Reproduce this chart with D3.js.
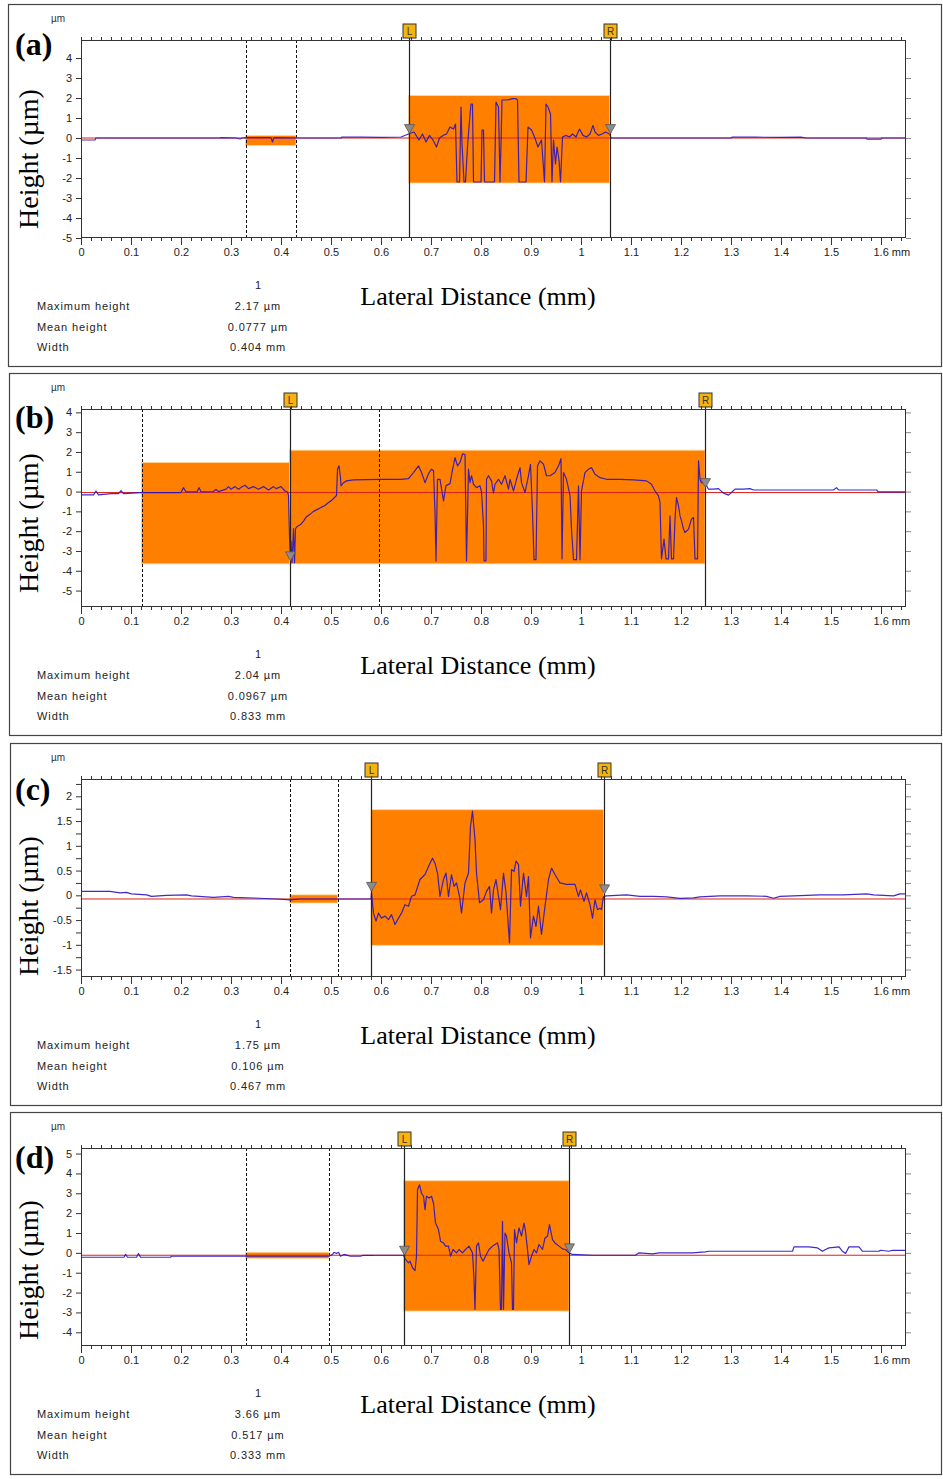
<!DOCTYPE html>
<html><head><meta charset="utf-8">
<script src="https://cdn.jsdelivr.net/npm/d3@7"></script>
<style>body{margin:0;background:#fff}svg{display:block}</style>
</head><body><svg id="c" width="943" height="1479"></svg>
<script>
// ---------------- DATA ----------------
const panelNames = ["(a)", "(b)", "(c)", "(d)"];
const xTicks = [0,0.1,0.2,0.3,0.4,0.5,0.6,0.7,0.8,0.9,1,1.1,1.2,1.3,1.4,1.5,1.6];
const xTickLabels = ["0","0.1","0.2","0.3","0.4","0.5","0.6","0.7","0.8","0.9","1","1.1","1.2","1.3","1.4","1.5","1.6"];
const xUnit = "mm";
const xDomain = [0, 1.65];

const yTicksA = [-5,-4,-3,-2,-1,0,1,2,3,4];
const yTicksB = [-5,-4,-3,-2,-1,0,1,2,3,4];
const yTicksC = [-1.5,-1,-0.5,0,0.5,1,1.5,2];
const yMinorC = [-1.5,-1.25,-1,-0.75,-0.5,-0.25,0,0.25,0.5,0.75,1,1.25,1.5,1.75,2,2.25];
const yTicksD = [-4,-3,-2,-1,0,1,2,3,4,5];
const yDomainA = [-5, 4.9];
const yDomainB = [-5.83, 4.17];
const yDomainC = [-1.65, 2.35];
const yDomainD = [-4.69, 5.28];

const profileA = [[0,-0.1],[0.028,-0.1],[0.03,0],[0.1,0],[0.2,0],[0.278,0],[0.28,0.02],[0.31,0],[0.318,-0.05],[0.322,0],[0.33,0.02],[0.38,0.02],[0.383,-0.2],[0.386,0.02],[0.43,0],[0.52,0],[0.522,0.05],[0.56,0.04],[0.6,0.03],[0.64,0.05],[0.655,0.2],
[0.666,0.3],[0.676,-0.1],[0.683,0.2],[0.69,-0.2],[0.697,0.13],[0.704,-0.1],[0.711,-0.45],[0.717,0],[0.724,0.13],[0.731,0.2],[0.738,0.55],[0.745,0.45],[0.749,0.7],[0.752,-2.2],[0.757,-2.2],[0.76,1.55],[0.762,-0.3],[0.766,-2.2],[0.769,-2.2],[0.773,-0.45],[0.776,0.55],[0.78,1.7],[0.783,1.7],[0.785,-2.2],[0.8,-2.2],[0.802,0.4],[0.805,0.4],[0.807,-2.2],[0.827,-2.2],[0.83,1.8],[0.835,1.55],[0.838,-2.2],[0.84,-0.3],[0.842,1.9],[0.849,1.9],[0.856,1.92],[0.863,1.97],[0.869,1.97],[0.873,1.9],[0.876,-2.2],[0.89,-2.2],[0.894,0.55],[0.901,0.4],[0.907,0.05],[0.914,-0.45],[0.921,-0.1],[0.927,-2.2],[0.93,1.7],[0.934,1.55],[0.939,1.2],[0.942,-2.2],[0.945,-0.1],[0.949,-1.3],[0.952,-0.45],[0.956,-1.1],[0.959,-2.2],[0.963,0.05],[0.97,0.13],[0.977,0.05],[0.983,0.2],[0.99,0.05],[0.997,0.45],[1.004,0.13],[1.011,0.05],[1.018,0.2],[1.024,0.63],[1.028,0.3],[1.035,0.13],[1.042,0.2],[1.049,0.3],[1.057,0.2],[1.06,0],[1.2,0],[1.3,0],[1.302,0.04],[1.35,0.04],[1.4,0.03],[1.44,0.04],[1.45,0],[1.57,0],[1.572,-0.06],[1.6,-0.06],[1.602,0],[1.65,0]];

const profileB = [[0,-0.17],[0.025,-0.17],[0.03,0.03],[0.035,-0.17],[0.06,-0.1],[0.075,-0.1],[0.08,0.05],[0.085,-0.1],[0.12,-0.05],[0.2,-0.05],[0.205,0.2],[0.21,-0.02],[0.232,-0.02],[0.236,0.2],[0.24,-0.02],[0.265,0],[0.27,0.1],[0.275,0],[0.29,0.12],[0.295,0.25],[0.3,0.12],[0.308,0.25],[0.315,0.12],[0.322,0.24],[0.328,0.32],[0.335,0.15],[0.345,0.25],[0.355,0.12],[0.365,0.25],[0.375,0.08],[0.385,0.25],[0.39,0.15],[0.4,0.25],[0.408,0.03],[0.413,-0.02],[0.415,-0.2],[0.418,-3.25],[0.42,-2.5],[0.422,-3.6],[0.425,-1.87],[0.427,-3.6],[0.429,-1.87],[0.433,-1.75],[0.44,-1.65],[0.445,-1.49],[0.45,-1.3],[0.458,-1.15],[0.465,-1],[0.473,-0.9],[0.48,-0.8],[0.488,-0.7],[0.495,-0.55],[0.5,-0.47],[0.505,-0.35],[0.511,-0.2],[0.513,1.13],[0.516,1.3],[0.519,0.7],[0.52,0.29],[0.525,0.45],[0.531,0.54],[0.545,0.59],[0.57,0.6],[0.6,0.62],[0.64,0.62],[0.655,0.65],[0.665,0.96],[0.675,1.3],[0.681,0.96],[0.688,0.45],[0.695,0.9],[0.701,1.13],[0.705,1.05],[0.708,-1],[0.71,-3.5],[0.713,0.62],[0.718,0.62],[0.725,-0.47],[0.73,0.3],[0.738,0.4],[0.743,1.1],[0.748,1.72],[0.753,1.3],[0.758,1.47],[0.763,1.9],[0.768,1.87],[0.771,-3.5],[0.775,1.13],[0.778,0.45],[0.781,0.8],[0.785,0.37],[0.791,0.2],[0.798,0.29],[0.801,-0.02],[0.805,-1.7],[0.806,-3.5],[0.81,-3.5],[0.811,0.62],[0.815,0.8],[0.821,0.54],[0.825,-0.08],[0.828,0.37],[0.835,0.62],[0.841,0.37],[0.848,0.8],[0.855,0.12],[0.858,0.62],[0.865,0.03],[0.871,0.62],[0.878,1.21],[0.881,0.45],[0.888,-0.05],[0.895,0.8],[0.899,1.38],[0.903,-1.06],[0.906,-3.44],[0.91,-3.44],[0.913,1.3],[0.918,1.55],[0.925,1.38],[0.931,0.8],[0.938,0.8],[0.948,0.96],[0.955,1.3],[0.96,1.66],[0.962,-3.4],[0.965,0.96],[0.971,0.62],[0.978,-0.2],[0.981,-1.9],[0.985,-3.44],[0.991,-3.44],[0.995,0.29],[0.998,-3.44],[1.001,0.03],[1.008,0.96],[1.015,1.13],[1.021,1.21],[1.028,0.87],[1.038,0.7],[1.051,0.62],[1.078,0.62],[1.105,0.59],[1.131,0.54],[1.141,0.37],[1.148,0.03],[1.155,-0.22],[1.158,-0.55],[1.161,-3.4],[1.166,-2.4],[1.17,-3.4],[1.175,-3.4],[1.178,-1.23],[1.181,-3.4],[1.185,-3.4],[1.188,-1.4],[1.191,-0.3],[1.195,-0.72],[1.198,-1.23],[1.201,-1.48],[1.205,-1.9],[1.208,-2.07],[1.215,-1.9],[1.221,-1.4],[1.225,-1.3],[1.228,-3.4],[1.233,-3.4],[1.235,1.55],[1.238,0.62],[1.241,0.45],[1.248,0.45],[1.255,0.12],[1.265,0.12],[1.275,0.15],[1.285,-0.08],[1.295,-0.18],[1.301,-0.05],[1.308,0.12],[1.325,0.12],[1.338,0.15],[1.345,0.08],[1.505,0.08],[1.511,0.2],[1.515,0.08],[1.591,0.08],[1.595,-0.02],[1.65,-0.02]];

const profileC = [[0,0.08],[0.058,0.08],[0.078,0.05],[0.091,0.06],[0.101,0.03],[0.131,0.01],[0.141,-0.02],[0.171,0],[0.211,0.01],[0.221,-0.01],[0.265,-0.04],[0.295,-0.02],[0.305,-0.04],[0.345,-0.054],[0.391,-0.074],[0.418,-0.09],[0.438,-0.074],[0.505,-0.074],[0.58,-0.074],[0.581,0.05],[0.585,-0.36],[0.59,-0.52],[0.595,-0.36],[0.601,-0.46],[0.608,-0.42],[0.615,-0.49],[0.621,-0.39],[0.628,-0.59],[0.635,-0.46],[0.641,-0.36],[0.648,-0.19],[0.655,-0.22],[0.661,-0.02],[0.668,0.01],[0.678,0.32],[0.688,0.42],[0.698,0.65],[0.703,0.75],[0.708,0.65],[0.713,0.45],[0.718,-0.02],[0.725,0.32],[0.73,0.45],[0.735,-0.02],[0.741,0.42],[0.746,0.18],[0.751,0.25],[0.757,-0.02],[0.761,-0.36],[0.768,0.25],[0.775,0.45],[0.779,1.39],[0.783,1.7],[0.788,1.12],[0.791,0.45],[0.797,-0.15],[0.805,-0.09],[0.811,0.08],[0.817,0.18],[0.821,-0.36],[0.825,0.11],[0.83,0.32],[0.835,-0.02],[0.839,-0.29],[0.845,0.45],[0.85,0.05],[0.857,-0.96],[0.861,0.52],[0.866,0.48],[0.87,0.69],[0.875,0.62],[0.879,-0.22],[0.885,0.45],[0.891,-0.02],[0.895,0.38],[0.899,-0.86],[0.905,-0.42],[0.91,-0.63],[0.915,-0.22],[0.921,-0.79],[0.928,-0.22],[0.935,0.32],[0.941,0.55],[0.948,0.42],[0.958,0.25],[0.971,0.22],[0.988,0.22],[0.995,-0.02],[0.999,0.11],[1.006,-0.12],[1.011,0.05],[1.018,-0.19],[1.023,-0.46],[1.028,-0.09],[1.033,-0.29],[1.038,-0.26],[1.041,-0.29],[1.045,-0.02],[1.051,-0.01],[1.091,0.01],[1.118,-0.02],[1.145,-0.02],[1.171,-0.03],[1.198,-0.06],[1.225,-0.05],[1.238,-0.03],[1.278,-0.01],[1.331,-0.01],[1.371,-0.02],[1.385,-0.06],[1.398,-0.02],[1.425,-0.01],[1.478,0.01],[1.525,0.01],[1.571,0.03],[1.585,0.01],[1.625,-0.01],[1.638,0.03],[1.65,0.03]];

const profileD = [[0,-0.22],[0.086,-0.22],[0.089,-0.08],[0.093,-0.22],[0.111,-0.22],[0.115,-0.03],[0.119,-0.22],[0.179,-0.22],[0.181,-0.17],[0.236,-0.17],[0.329,-0.17],[0.496,-0.17],[0.503,-0.08],[0.506,0.03],[0.511,-0.03],[0.515,0.03],[0.519,-0.17],[0.526,-0.08],[0.533,-0.13],[0.539,-0.17],[0.559,-0.17],[0.563,-0.13],[0.583,-0.13],[0.586,-0.12],[0.645,-0.12],[0.649,-0.33],[0.655,-0.5],[0.658,-0.42],[0.663,-0.75],[0.668,-0.89],[0.671,-0.17],[0.673,3.18],[0.677,3.43],[0.681,3],[0.685,2.85],[0.688,2.18],[0.691,2.85],[0.696,2.76],[0.701,2.85],[0.705,2.5],[0.709,1.5],[0.715,1.17],[0.719,0.59],[0.725,0.5],[0.729,0.34],[0.735,0.34],[0.739,-0.17],[0.744,0.17],[0.751,0],[0.756,0.17],[0.763,0],[0.769,0.17],[0.776,0.34],[0.783,0],[0.786,-1.34],[0.788,-2.85],[0.791,0.34],[0.795,0.5],[0.799,-0.17],[0.804,-0.42],[0.809,-0.17],[0.816,0.17],[0.823,0.34],[0.828,0.42],[0.833,0.5],[0.836,0.17],[0.839,-2.85],[0.841,-2.85],[0.843,1.59],[0.845,-2.85],[0.848,1],[0.851,0.84],[0.856,0],[0.861,-0.5],[0.863,-2.85],[0.865,-2.85],[0.867,1.17],[0.871,0.5],[0.876,1.26],[0.881,0.84],[0.886,1.5],[0.889,1.09],[0.893,0.17],[0.896,-0.59],[0.901,-0.17],[0.906,0.17],[0.911,0],[0.916,0.42],[0.923,0.17],[0.928,0.75],[0.933,0.84],[0.937,1.42],[0.943,0.67],[0.948,0.5],[0.956,0.34],[0.963,0.2],[0.969,0.17],[0.976,0],[0.983,-0.08],[1.023,-0.12],[1.109,-0.12],[1.116,0],[1.143,-0.05],[1.156,0],[1.223,0],[1.249,0.05],[1.256,0.08],[1.423,0.08],[1.426,0.3],[1.456,0.3],[1.473,0.25],[1.483,0.08],[1.489,0.17],[1.496,0.25],[1.516,0.3],[1.523,0.08],[1.529,-0.03],[1.536,0.3],[1.556,0.3],[1.563,0.08],[1.596,0.08],[1.599,0.13],[1.616,0.08],[1.623,0.13],[1.65,0.13]];

const meanLevels = [0, -0.05, -0.074, -0.12];
const refBandX = [[0.329,0.43],[0.121,0.417],[0.417,0.513],[0.329,0.496]];
const refBandY = [[-0.37,0.13],[-3.65,1.47],[-0.155,0.01],[-0.28,0.03]];
const mainBandX = [[0.655,1.057],[0.417,1.248],[0.58,1.045],[0.645,0.976]];
const mainBandY = [[-2.25,2.12],[-3.65,2.09],[-1.01,1.73],[-2.93,3.63]];
const dashedCursors = [[0.329,0.43],[0.121,0.595],[0.417,0.513],[0.329,0.496]];
const cursorNames = ["L","R"];
const triangleY = [[0.22,0.22],[-3.5,0.2],[0.08,0.03],[-0.12,0]];

const statNames = ["Maximum height","Mean height","Width"];
const statColumn = "1";
const statsA = ["2.17 µm","0.0777 µm","0.404 mm"];
const statsB = ["2.04 µm","0.0967 µm","0.833 mm"];
const statsC = ["1.75 µm","0.106 µm","0.467 mm"];
const statsD = ["3.66 µm","0.517 µm","0.333 mm"];

const xTitle = "Lateral Distance (mm)";
const yTitle = "Height (µm)";
const yUnitSmall = "µm";

// ---------------- LAYOUT ----------------
const panels = [
  {profile: profileA, yDomain: yDomainA, yTicks: yTicksA, yMinor: yTicksA, stats: statsA, top: 4,  boxX: 8,  yTitleY: 159, nameY: 55},
  {profile: profileB, yDomain: yDomainB, yTicks: yTicksB, yMinor: yTicksB, stats: statsB, top: 373, boxX: 9, yTitleY: 523, nameY: 428},
  {profile: profileC, yDomain: yDomainC, yTicks: yTicksC, yMinor: yMinorC, stats: statsC, top: 743, boxX: 10, yTitleY: 906, nameY: 800},
  {profile: profileD, yDomain: yDomainD, yTicks: yTicksD, yMinor: yTicksD, stats: statsD, top: 1112, boxX: 10, yTitleY: 1270, nameY: 1168}
];

const svg = d3.select("#c");
svg.append("rect").attr("width",943).attr("height",1479).attr("fill","#fff");

const sans = "'Liberation Sans', Arial, sans-serif";
const serif = "'Liberation Serif', 'Times New Roman', serif";
const plotL = 81, plotR = 906, plotH = 198;
const x = d3.scaleLinear().domain(xDomain).range([plotL, plotR]);
const minorX = d3.range(0, 1.6501, 0.02);

panels.forEach((p, i) => {
  const g = svg.append("g");
  const top = p.top;
  const pt = top + 36, pb = pt + plotH;
  const y = d3.scaleLinear().domain(p.yDomain).range([pb, pt]);

  // panel frame
  g.append("rect").attr("x", p.boxX + 0.5).attr("y", top + 0.5)
    .attr("width", 941.5 - p.boxX - 0.5).attr("height", 362)
    .attr("fill", "none").attr("stroke", "#444").attr("stroke-width", 1.2);

  // bands
  const band = (bx, by) => g.append("rect")
    .attr("x", x(bx[0])).attr("y", y(by[1]))
    .attr("width", x(bx[1]) - x(bx[0])).attr("height", y(by[0]) - y(by[1]))
    .attr("fill", "#ff8000").attr("stroke", "#ffd89a").attr("stroke-width", 0.8);
  band(refBandX[i], refBandY[i]);
  band(mainBandX[i], mainBandY[i]);

  // dashed cursors
  dashedCursors[i].forEach(d => {
    g.append("line").attr("x1", Math.round(x(d)) + 0.5).attr("x2", Math.round(x(d)) + 0.5)
      .attr("y1", pt).attr("y2", pb).attr("stroke", "#111").attr("stroke-width", 1)
      .attr("stroke-dasharray", "3,2");
  });

  // mean line
  g.append("line").attr("x1", plotL).attr("x2", plotR)
    .attr("y1", y(meanLevels[i])).attr("y2", y(meanLevels[i]))
    .attr("stroke", "#e0201a").attr("stroke-width", 1);

  // profile
  const line = d3.line().x(d => x(d[0])).y(d => y(d[1]));
  g.append("path").datum(p.profile).attr("d", line)
    .attr("fill", "none").attr("stroke", "#2a14c0").attr("stroke-width", 1.2)
    .attr("stroke-opacity", 0.9).attr("stroke-linejoin", "round");

  // L/R cursors
  mainBandX[i].forEach((cx, k) => {
    const xp = Math.round(x(cx)) + 0.5;
    g.append("line").attr("x1", xp).attr("x2", xp).attr("y1", pt - 2).attr("y2", pb)
      .attr("stroke", "#222").attr("stroke-width", 1.2);
    g.append("rect").attr("x", xp - 6.5).attr("y", pt - 16).attr("width", 13).attr("height", 14)
      .attr("fill", "#f6b40f").attr("stroke", "#333").attr("stroke-width", 1);
    g.append("text").attr("x", xp).attr("y", pt - 5).attr("text-anchor", "middle")
      .attr("font-family", sans).attr("font-size", 10).attr("fill", "#333").text(cursorNames[k]);
    const ty = y(triangleY[i][k]);
    g.append("path").attr("d", `M${xp - 5},${ty - 9} L${xp + 5},${ty - 9} L${xp},${ty} Z`)
      .attr("fill", "#8c8c8c").attr("stroke", "#555").attr("stroke-width", 0.8);
  });

  // plot frame
  g.append("rect").attr("x", plotL + 0.5).attr("y", pt + 0.5).attr("width", plotR - plotL - 1)
    .attr("height", plotH - 1).attr("fill", "none").attr("stroke", "#333").attr("stroke-width", 1);

  const styleAxis = (sel, color) => {
    sel.select(".domain").remove();
    sel.selectAll("line").attr("stroke", color);
    sel.selectAll("text").attr("font-family", sans).attr("font-size", 11).attr("fill", "#222");
  };
  // bottom axis
  const bMaj = g.append("g").attr("transform", `translate(0,${pb})`)
    .call(d3.axisBottom(x).tickValues(xTicks).tickSize(7).tickPadding(3)
      .tickFormat((d, j) => xTickLabels[j]));
  styleAxis(bMaj, "#333");
  bMaj.selectAll(".tick:last-of-type text").attr("text-anchor", "start").attr("dx", "-8")
    .text(xTickLabels[xTickLabels.length - 1] + " " + xUnit);
  const bMin = g.append("g").attr("transform", `translate(0,${pb})`)
    .call(d3.axisBottom(x).tickValues(minorX).tickSize(3).tickFormat(""));
  styleAxis(bMin, "#333");
  const tMin = g.append("g").attr("transform", `translate(0,${pt})`)
    .call(d3.axisTop(x).tickValues(minorX).tickSize(3).tickFormat(""));
  styleAxis(tMin, "#333");

  // left axis
  const lMaj = g.append("g").attr("transform", `translate(${plotL},0)`)
    .call(d3.axisLeft(y).tickValues(p.yTicks).tickSize(0).tickPadding(9)
      .tickFormat(d => String(d).replace("−", "-")));
  styleAxis(lMaj, "#333");
  const lMin = g.append("g").attr("transform", `translate(${plotL},0)`)
    .call(d3.axisLeft(y).tickValues(p.yMinor).tickSize(5).tickFormat(""));
  styleAxis(lMin, "#333");
  const rMin = g.append("g").attr("transform", `translate(${plotR},0)`)
    .call(d3.axisRight(y).tickValues(p.yMinor).tickSize(5).tickFormat(""));
  styleAxis(rMin, "#888");

  // small unit label
  g.append("text").attr("x", 51).attr("y", top + 18).attr("font-family", sans)
    .attr("font-size", 10).attr("fill", "#333").text(yUnitSmall);

  // panel name
  g.append("text").attr("x", 15).attr("y", p.nameY).attr("font-family", serif)
    .attr("font-size", 32).attr("font-weight", "bold").attr("fill", "#000").text(panelNames[i]);

  // y title
  g.append("text").attr("transform", `translate(38,${p.yTitleY}) rotate(-90)`)
    .attr("text-anchor", "middle").attr("font-family", serif).attr("font-size", 28)
    .attr("fill", "#000").text(yTitle);

  // x title
  g.append("text").attr("x", 478).attr("y", top + 301).attr("text-anchor", "middle")
    .attr("font-family", serif).attr("font-size", 26).attr("fill", "#000").text(xTitle);

  // stats
  g.append("text").attr("x", 258).attr("y", top + 285).attr("text-anchor", "middle")
    .attr("font-family", sans).attr("font-size", 11).attr("fill", "#222").text(statColumn);
  statNames.forEach((nm, k) => {
    const yy = top + 306 + k * 20.5;
    g.append("text").attr("x", 37).attr("y", yy).attr("font-family", sans).attr("font-size", 11)
      .attr("letter-spacing", 0.9).attr("fill", "#222").text(nm);
    g.append("text").attr("x", 258).attr("y", yy).attr("text-anchor", "middle")
      .attr("font-family", sans).attr("font-size", 11).attr("letter-spacing", 0.9)
      .attr("fill", "#222").text(p.stats[k]);
  });
});
</script>
</body></html>
